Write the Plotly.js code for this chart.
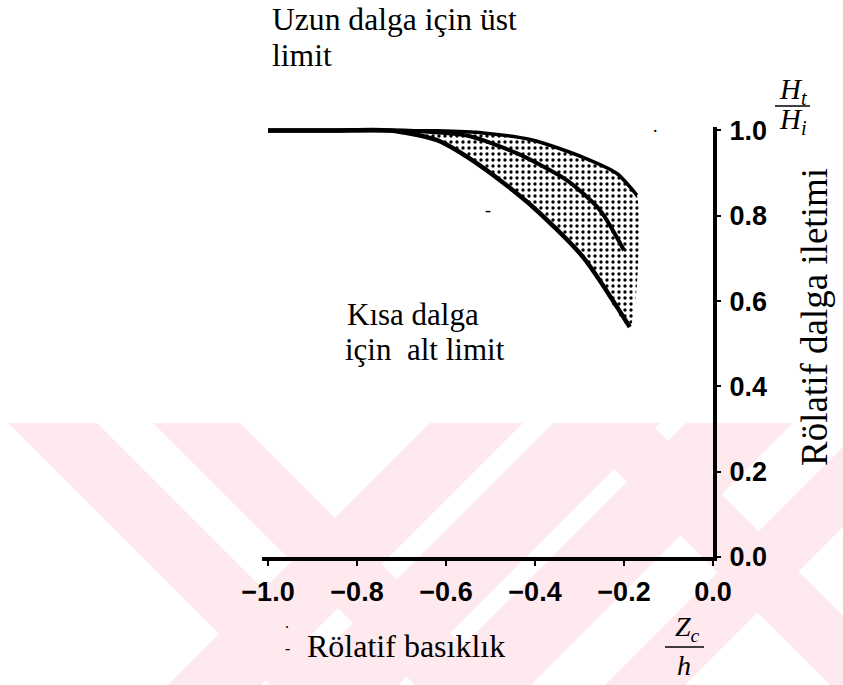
<!DOCTYPE html>
<html><head><meta charset="utf-8">
<script src="https://cdn.plot.ly/plotly-3.0.1.min.js"></script>
<style>html,body{margin:0;padding:0;background:#fff}#chart{width:843px;height:685px}
.xtick text,.ytick text{font-stretch:condensed}</style>
</head><body><div id="chart"></div>
<script>
// ---- data ----
const upperX  = [-1.0, -0.85, -0.72, -0.62, -0.517, -0.404, -0.292, -0.216, -0.171];
const upperY  = [1.0,  1.0,   1.0,   0.999, 0.994,  0.977,  0.937,  0.899,  0.848];
const middleX = [-1.0, -0.85, -0.70, -0.553, -0.44, -0.328, -0.254, -0.20];
const middleY = [1.0,  1.0,   1.0,   0.988,  0.946, 0.883,  0.813,  0.719];
const lowerX  = [-1.0, -0.85, -0.726, -0.62, -0.517, -0.404, -0.292, -0.187];
const lowerY  = [1.0,  1.0,   1.0,    0.977, 0.913,  0.82,   0.703,  0.539];
const xTickVals = [-1.0, -0.8, -0.6, -0.4, -0.2, 0.0];
const xTickText = ['\u22121.0', '\u22120.8', '\u22120.6', '\u22120.4', '\u22120.2', '0.0'];
const yTickVals = [0.0, 0.2, 0.4, 0.6, 0.8, 1.0];
const yTickText = ['0.0', '0.2', '0.4', '0.6', '0.8', '1.0'];

// ---- layout geometry helpers (pixel -> paper) ----
const W = 843, H = 685, ML = 262, MR = 130, MT = 127, MB = 128;
const PW = W - ML - MR, PH = H - MT - MB;
const px = v => (v - ML) / PW;
const py = v => (H - MB - v) / PH;

// watermark: union of diagonal pink bands, clipped to the lower band of the page
function clip(poly, a, b, c) { // keep a*x+b*y >= c
  const out = [];
  for (let i = 0; i < poly.length; i++) {
    const p = poly[i], q = poly[(i + 1) % poly.length];
    const fp = a * p[0] + b * p[1] - c, fq = a * q[0] + b * q[1] - c;
    if (fp >= 0) out.push(p);
    if ((fp >= 0) !== (fq >= 0)) {
      const t = fp / (fp - fq);
      out.push([p[0] + t * (q[0] - p[0]), p[1] + t * (q[1] - p[1])]);
    }
  }
  return out;
}
const rect = [[0, 423], [843, 423], [843, 685], [0, 685]];
const slashBands = [[853, 946], [976, 1083], [1109, 1216], [1290, 1370]];
const backBands = [[-415, -326], [-270, -183], [145, 227]];
const shapes = [];
function addBand(poly) {
  if (poly.length < 3) return;
  const d = poly.map((p, i) => (i ? 'L' : 'M') + px(p[0]).toFixed(4) + ',' + py(p[1]).toFixed(4)).join(' ') + ' Z';
  shapes.push({type: 'path', xref: 'paper', yref: 'paper', path: d, fillcolor: '#fde9ee', line: {width: 0}, layer: 'below'});
}
slashBands.forEach(([c1, c2]) => addBand(clip(clip(rect, 1, 1, c1), -1, -1, -c2)));
backBands.forEach(([c1, c2]) => addBand(clip(clip(rect, 1, -1, c1), -1, 1, -c2)));
// fraction bars
shapes.push({type: 'line', xref: 'paper', yref: 'paper', x0: px(775), x1: px(810), y0: py(106), y1: py(106), line: {color: '#000', width: 1.5}});
shapes.push({type: 'line', xref: 'paper', yref: 'paper', x0: px(665), x1: px(704), y0: py(647), y1: py(647), line: {color: '#000', width: 1.5}});

const fillX = upperX.slice(2).concat(lowerX.slice(2).reverse());
const fillY = upperY.slice(2).concat(lowerY.slice(2).reverse());

const traces = [
  {x: fillX, y: fillY, mode: 'lines', fill: 'toself', line: {width: 0, shape: 'spline', smoothing: 0.6},
   fillcolor: 'rgba(0,0,0,0)', fillpattern: {shape: '.', fgcolor: '#000', bgcolor: 'rgba(255,255,255,0)', size: 6, solidity: 0.25},
   hoverinfo: 'skip', showlegend: false},
  {x: upperX, y: upperY, mode: 'lines', line: {color: '#000', width: 3.5, shape: 'spline', smoothing: 0.7}, showlegend: false},
  {x: middleX, y: middleY, mode: 'lines', line: {color: '#000', width: 4, shape: 'spline', smoothing: 0.7}, showlegend: false},
  {x: lowerX, y: lowerY, mode: 'lines', line: {color: '#000', width: 4.5, shape: 'spline', smoothing: 0.7}, showlegend: false}
];

const serif = '"Liberation Serif", "Times New Roman", Times, serif';
const tickFont = {family: '"Liberation Sans", Arial, sans-serif', size: 27, color: '#000', weight: 'bold'};
function txt(text, x, y, size, opts) {
  return Object.assign({text: text, xref: 'paper', yref: 'paper', x: px(x), y: py(y), showarrow: false,
    xanchor: 'left', yanchor: 'middle', font: {family: serif, size: size, color: '#000'}}, opts || {});
}
const annotations = [
  txt('Uzun dalga için üst', 270, 20, 31.6),
  txt('limit', 270, 55, 31.6),
  txt('Kısa dalga', 345, 314, 31),
  txt('için\u00a0\u00a0alt limit', 343, 349, 31),
  txt('Rölatif basıklık', 305, 646, 32),
  txt('Rölatif dalga iletimi', 814, 317, 37, {xanchor: 'center', textangle: -90}),
  txt('<i>H</i><sub><i>t</i></sub>', 793, 91, 29, {xanchor: 'center'}),
  txt('<i>H</i><sub><i>i</i></sub>', 793, 121, 29, {xanchor: 'center'}),
  txt('<i>Z</i><sub><i>c</i></sub>', 687, 628, 28, {xanchor: 'center'}),
  txt('<i>h</i>', 684, 665, 28, {xanchor: 'center'}),
  txt('-', 488, 210, 18, {xanchor: 'center'}),
  txt('.', 655, 126, 18, {xanchor: 'center'}),
  txt('.', 287, 622, 16, {xanchor: 'center'}),
  txt('-', 287, 648, 16, {xanchor: 'center'})
];

const layout = {
  width: W, height: H,
  margin: {l: ML, r: MR, t: MT, b: MB, pad: 0},
  paper_bgcolor: '#fff', plot_bgcolor: 'rgba(0,0,0,0)',
  showlegend: false,
  xaxis: {range: [-1.0135, 0], tickvals: xTickVals, ticktext: xTickText, showgrid: false, zeroline: false,
          showline: true, linecolor: '#000', linewidth: 4, ticks: 'outside', ticklen: 5, tickwidth: 2, tickcolor: '#000',
          tickfont: tickFont, ticklabelstandoff: 3, fixedrange: true},
  yaxis: {range: [0, 1.008], side: 'right', tickvals: yTickVals, ticktext: yTickText, showgrid: false, zeroline: false,
          showline: true, linecolor: '#000', linewidth: 4, ticks: 'outside', ticklen: 4, tickwidth: 2, tickcolor: '#000',
          tickfont: tickFont, ticklabelstandoff: 3, fixedrange: true},
  shapes: shapes,
  annotations: annotations
};
Plotly.newPlot('chart', traces, layout, {displayModeBar: false, staticPlot: true});
</script></body></html>
